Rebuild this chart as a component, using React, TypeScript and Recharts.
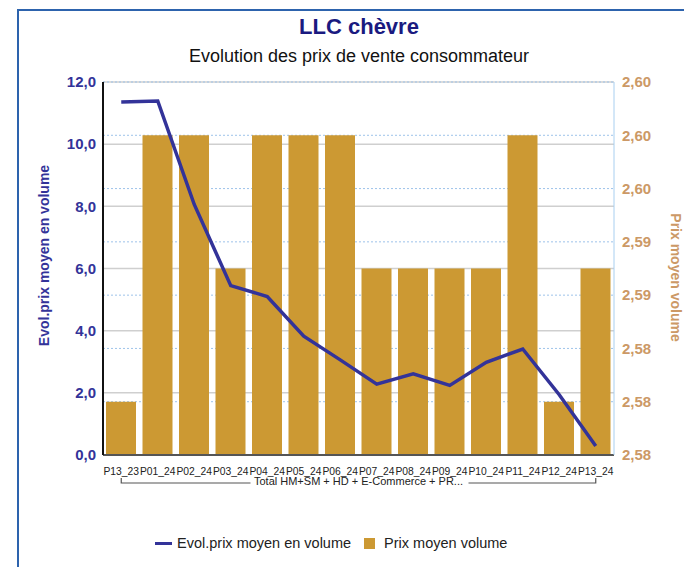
import React from "react"
import {
  ComposedChart,
  Bar,
  Line,
  XAxis,
  YAxis,
  CartesianGrid,
  Legend,
} from "recharts"

const categories = [
  "P13_23", "P01_24", "P02_24", "P03_24", "P04_24", "P05_24", "P06_24",
  "P07_24", "P08_24", "P09_24", "P10_24", "P11_24", "P12_24", "P13_24",
]
const evolPrix = [11.36, 11.39, 8.06, 5.45, 5.1, 3.82, 3.06, 2.28, 2.61, 2.24, 2.98, 3.41, 1.94, 0.29]
const prixMoyen = [2.58, 2.6, 2.6, 2.59, 2.6, 2.6, 2.6, 2.59, 2.59, 2.59, 2.59, 2.6, 2.58, 2.59]
const groupLabel = "Total HM+SM + HD + E-Commerce + PR..."
const leftTicks = [0, 2, 4, 6, 8, 10, 12]
const rightTicks = [2.576, 2.58, 2.584, 2.588, 2.592, 2.596, 2.6, 2.604]

const data = categories.map((cat, i) => ({
  cat,
  group: groupLabel,
  evol: evolPrix[i],
  prix: prixMoyen[i],
}))

const FONT = "'Liberation Sans', Arial, sans-serif"
const NAVY = "#333399"
const TAN = "#cc9933"
const TAN_TEXT = "#cc9966"

const fmt = (d: number) => (v: number) => v.toFixed(d).replace(".", ",")

const CatTick = (props: any) => {
  const { x, y, payload } = props
  return (
    <text x={x} y={y} dy={19.5} textAnchor="middle" fontSize={10.3} fill="#222" fontFamily={FONT}>
      {payload.value}
    </text>
  )
}

// group label under the categories, with its bracket
const GroupTick = (props: any) => {
  const { x, y, payload } = props
  const half = (511 / 14) * 6.5
  return (
    <g>
      <path
        d={`M${x - half},${y + 3}V${y + 8}H${x - 108} M${x + 110},${y + 8}H${x + half}V${y + 3}`}
        stroke="#555"
        strokeWidth={1.2}
        fill="none"
      />
      <text x={x} y={y} dy={10} textAnchor="middle" fontSize={11} fill="#222" fontFamily={FONT}>
        {payload.value}
      </text>
    </g>
  )
}

const LegendContent = () => (
  <div
    style={{
      display: "flex",
      alignItems: "center",
      height: 20,
      paddingLeft: 155,
      marginTop: -2,
      fontFamily: FONT,
      fontSize: 14.5,
      color: "#222",
    }}
  >
    <span style={{ width: 17, height: 3, background: NAVY, marginRight: 5 }} />
    <span style={{ marginRight: 13 }}>Evol.prix moyen en volume</span>
    <span style={{ width: 11, height: 11, background: TAN, marginRight: 9 }} />
    <span>Prix moyen volume</span>
  </div>
)

export default function App() {
  return (
    <div
      style={{
        position: "absolute",
        left: 0,
        top: 0,
        width: 684,
        height: 567,
        overflow: "hidden",
        background: "#fff",
      }}
    >
      <div
        style={{
          position: "absolute",
          left: 17,
          top: 9,
          width: 720,
          height: 600,
          borderTop: "2px solid #2d63ad",
          borderLeft: "2px solid #2d63ad",
        }}
      />
      <div
        style={{
          position: "absolute",
          top: 14,
          left: 0,
          width: 718,
          textAlign: "center",
          fontFamily: FONT,
          fontWeight: "bold",
          fontSize: 22,
          color: "#1a1a80",
        }}
      >
        LLC chèvre
      </div>
      <div
        style={{
          position: "absolute",
          top: 46,
          left: 0,
          width: 718,
          textAlign: "center",
          fontFamily: FONT,
          fontSize: 18,
          color: "#111",
        }}
      >
        Evolution des prix de vente consommateur
      </div>
      <ComposedChart
        width={684}
        height={567}
        data={data}
        margin={{ top: 82, right: 0, left: 0, bottom: 12 }}
      >
        <CartesianGrid yAxisId="left" vertical={false} stroke="#cfcfcf" strokeWidth={1.5} />
        <CartesianGrid yAxisId="right" vertical={false} stroke="#9dc3ea" strokeDasharray="2 2" />
        <XAxis
          dataKey="cat"
          interval={0}
          height={20}
          tickLine={false}
          tickSize={0}
          tickMargin={0}
          tick={<CatTick />}
          axisLine={{ stroke: "#555", strokeWidth: 2 }}
        />
        <XAxis
          xAxisId="group"
          dataKey="group"
          allowDuplicatedCategory={false}
          height={60}
          tickLine={false}
          axisLine={false}
          tickSize={0}
          tickMargin={0}
          tick={<GroupTick />}
        />
        <YAxis
          yAxisId="left"
          width={103}
          domain={[0, 12]}
          ticks={leftTicks}
          tickFormatter={fmt(1)}
          tickLine={false}
          tickSize={0}
          tickMargin={7}
          axisLine={{ stroke: "#111", strokeWidth: 2 }}
          tick={{ fill: NAVY, fontSize: 15, fontWeight: "bold", fontFamily: FONT }}
          label={{
            content: (p: any) => {
              const vb = p.viewBox
              const cx = vb.x + 44
              const cy = vb.y + vb.height / 2 - 13
              return (
                <text
                  x={cx}
                  y={cy}
                  transform={`rotate(-90 ${cx} ${cy})`}
                  textAnchor="middle"
                  dominantBaseline="central"
                  fill={NAVY}
                  fontSize={14}
                  fontWeight="bold"
                  fontFamily={FONT}
                >
                  Evol.prix moyen en volume
                </text>
              )
            },
          }}
        />
        <YAxis
          yAxisId="right"
          orientation="right"
          width={70}
          domain={[2.576, 2.604]}
          ticks={rightTicks}
          tickFormatter={fmt(2)}
          tickLine={false}
          tickSize={0}
          tickMargin={8}
          axisLine={{ stroke: "#a8cff0" }}
          tick={{ fill: TAN_TEXT, fontSize: 15, fontWeight: "bold", fontFamily: FONT }}
          label={{
            content: (p: any) => {
              const vb = p.viewBox
              const cx = vb.x + 62
              const cy = vb.y + vb.height / 2 + 9
              return (
                <text
                  x={cx}
                  y={cy}
                  transform={`rotate(90 ${cx} ${cy})`}
                  textAnchor="middle"
                  dominantBaseline="central"
                  fill={TAN_TEXT}
                  fontSize={14}
                  fontWeight="bold"
                  fontFamily={FONT}
                >
                  Prix moyen volume
                </text>
              )
            },
          }}
        />
        <Legend verticalAlign="bottom" height={20} content={<LegendContent />} />
        <Bar
          yAxisId="right"
          dataKey="prix"
          name="Prix moyen volume"
          fill={TAN}
          barSize={30}
          isAnimationActive={false}
        />
        <Line
          yAxisId="left"
          dataKey="evol"
          name="Evol.prix moyen en volume"
          stroke={NAVY}
          strokeWidth={3.5}
          dot={false}
          activeDot={false}
          isAnimationActive={false}
        />
      </ComposedChart>
    </div>
  )
}
